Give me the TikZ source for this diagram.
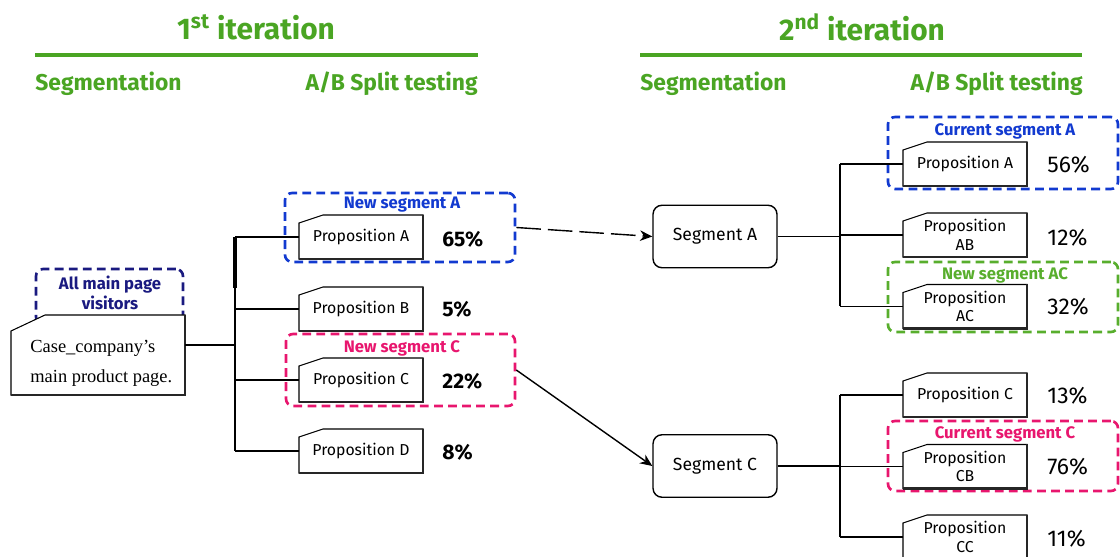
\documentclass[tikz,border=0pt]{standalone}
\usepackage{fontspec}
\setmainfont{Fira Sans}
\newfontfamily\casefont{Liberation Serif}
\usetikzlibrary{calc,arrows.meta}
\definecolor{hgreen}{RGB}{74,165,35}
\definecolor{sblue}{RGB}{18,58,208}
\definecolor{snavy}{RGB}{26,26,128}
\definecolor{spink}{RGB}{232,22,110}
\definecolor{sgreen}{RGB}{88,174,45}
% tab box: name, cx, cy, w, h, text
\newcommand\tabnode[6]{%
  \draw[tabline,fill=white] ({#2-#4/2},{#3+#5/2}) -- ({#2-#4/2},{#3-#5/2+8}) -- ({#2-#4/2+24},{#3-#5/2}) -- ({#2+#4/2},{#3-#5/2}) -- ({#2+#4/2},{#3+#5/2}) -- cycle;
  \draw[tabshadow] ({#2-#4/2},{#3+#5/2}) -- ({#2+#4/2},{#3+#5/2}) -- ({#2+#4/2},{#3-#5/2});
  \node[prop,minimum width={#4*0.02cm},minimum height={#5*0.02cm}] (#1) at (#2,#3) {#6};}
\begin{document}
\begin{tikzpicture}[x=0.02cm,y=-0.02cm,
  head/.style={text=hgreen,font=\fontsize{17}{18}\selectfont\bfseries,inner sep=0pt},
  sub/.style={text=hgreen,font=\fontsize{13}{14}\selectfont\bfseries,inner sep=0pt},
  hline/.style={draw=hgreen,line width=2pt},
  tabline/.style={draw=black,line width=0.6pt},
  tabshadow/.style={draw=black!85,line width=1.2pt},
  prop/.style={inner sep=1pt,align=center,font=\fontsize{9}{10.5}\selectfont},
  propR/.style={prop,font=\fontsize{10}{11.5}\selectfont},
  frame/.style={draw=#1,dash pattern=on 5pt off 3pt,line width=1.5pt,rounded corners=4pt,inner sep=0pt},
  flabel/.style={text=#1,font=\fontsize{9.5}{11}\selectfont\bfseries,inner sep=0pt,align=center},
  seg/.style={draw=black,line width=0.8pt,rounded corners=0.18cm,minimum width=2.48cm,minimum height=1.25cm,font=\fontsize{10}{12}\selectfont},
  pctL/.style={font=\fontsize{12}{14}\selectfont\bfseries,inner sep=0pt,anchor=west},
  pctR/.style={font=\fontsize{13}{15}\selectfont,inner sep=0pt,anchor=west},
  conn/.style={draw=black,line width=0.8pt},
  arr/.style={draw=black,line width=0.8pt,-{Stealth[length=7pt,width=6pt]}}]
\useasboundingbox (0,0) rectangle (1120,557);
\clip (0,0) rectangle (1120,557);

% headers
\node[head] (t1) at (256,27) {1\textsuperscript{st} iteration};
\node[head] (t2) at (862,27) {2\textsuperscript{nd} iteration};
\draw[hline] (35,55) -- (478,55);
\draw[hline] (640,55) -- (1082,55);
\node[sub,anchor=west] (s1) at (35,84) {Segmentation};
\node[sub,anchor=east] (ab1) at (478,84) {A/B Split testing};
\node[sub,anchor=west] (s2) at (640,84) {Segmentation};
\node[sub,anchor=east] (ab2) at (1083,84) {A/B Split testing};

% frames
\node[frame=snavy,minimum width=2.94cm,minimum height=1.1cm] (fAll) at (109.5,296.5) {};
\node[flabel=snavy] (lAll) at (110,293) {All main page\\visitors};
\node[frame=sblue,minimum width=4.6cm,minimum height=1.38cm] (fA1) at (400,227.5) {};
\node[flabel=sblue] (lA1) at (402,205) {New segment A};
\node[frame=spink,minimum width=4.58cm,minimum height=1.44cm] (fC1) at (400.5,370) {};
\node[flabel=spink] (lC1) at (402,348) {New segment C};
\node[frame=sblue,minimum width=4.6cm,minimum height=1.44cm] (fA2) at (1003,153) {};
\node[flabel=sblue] (lA2) at (1005,131) {Current segment A};
\node[frame=sgreen,minimum width=4.6cm,minimum height=1.4cm] (fAC) at (1003,297) {};
\node[flabel=sgreen] (lAC) at (1005,275) {New segment AC};
\node[frame=spink,minimum width=4.6cm,minimum height=1.4cm] (fC2) at (1003,456) {};
\node[flabel=spink] (lC2) at (1005,434) {Current segment C};

% main box
\draw[tabline,fill=white] (11,395) -- (11,331) -- (45,315) -- (185,315) -- (185,395) -- cycle;
\draw[tabshadow] (11,395) -- (185,395) -- (185,315);
\node[minimum width=3.48cm,minimum height=1.6cm,inner sep=0pt] (main) at (98,355) {};
\node[anchor=west,align=left,inner sep=0pt,font=\casefont\fontsize{10.5}{17}\selectfont] (mtxt) at (30,363) {Case\_company’s\\main product page.};
\coordinate (mainR) at (185,345);
\coordinate (tr1) at (235,345);

% first column propositions
\tabnode{p1A}{361}{237}{124}{44}{Proposition A}
\tabnode{p1B}{361}{309}{124}{44}{Proposition B}
\tabnode{p1C}{361}{380}{124}{44}{Proposition C}
\tabnode{p1D}{361}{451}{124}{44}{Proposition D}
\node[pctL] (q1A) at (442,239) {65\%};
\node[pctL] (q1B) at (442,309) {5\%};
\node[pctL] (q1C) at (442,381) {22\%};
\node[pctL] (q1D) at (442,452) {8\%};

\coordinate (tr1top) at (235,237);
\coordinate (tr1bot) at (235,451);
\draw[conn] (mainR) -- (tr1);
\draw[conn] (tr1top) -- (tr1bot);
\draw[line width=2pt] (tr1top) -- (235,288);
\draw[conn] (tr1top) -- (p1A.west);
\draw[conn] (tr1top |- p1B.west) -- (p1B.west);
\draw[conn] (tr1top |- p1C.west) -- (p1C.west);
\draw[conn] (tr1bot) -- (p1D.west);

% segments
\node[seg] (segA) at (715,236.5) {Segment A};
\node[seg] (segC) at (715,466) {Segment C};
\draw[arr,dash pattern=on 14pt off 4pt] (fA1.east) -- (segA.west);
\draw[arr] (fC1.east) -- (segC.west);

% second column propositions
\tabnode{p2A}{965}{164}{124}{44}{Proposition A}
\tabnode{p2AB}{965}{235}{124}{44}{Proposition\\AB}
\tabnode{p2AC}{965}{306.5}{124}{44}{Proposition\\AC}
\tabnode{p2C}{965}{395}{124}{44}{Proposition C}
\tabnode{p2CB}{965}{466.5}{124}{44}{Proposition\\CB}
\tabnode{p2CC}{965}{537}{124}{44}{Proposition\\CC}
\node[pctR] (q2A) at (1047,165) {56\%};
\node[pctR] (q2AB) at (1047,238) {12\%};
\node[pctR] (q2AC) at (1047,307) {32\%};
\node[pctR] (q2C) at (1047,396) {13\%};
\node[pctR] (q2CB) at (1047,467) {76\%};
\node[pctR] (q2CC) at (1047,539) {11\%};

\coordinate (tr2top) at (840,164);
\coordinate (tr2bot) at (840,306.5);
\coordinate (tr3top) at (840,395);
\coordinate (tr3bot) at (840,537);
\draw[conn] (segA.east) -- (tr2top |- segA.east);
\draw[conn] (tr2top) -- (tr2bot);
\draw[conn] (tr2top) -- (p2A.west);
\draw[conn] (tr2top |- p2AB.west) -- (p2AB.west);
\draw[conn] (tr2bot) -- (p2AC.west);
\draw[conn] (segC.east) -- (tr3top |- segC.east);
\draw[conn] (tr3top) -- (tr3bot);
\draw[conn] (tr3top) -- (p2C.west);
\draw[conn] (tr3top |- p2CB.west) -- (p2CB.west);
\draw[conn] (tr3bot) -- (p2CC.west);
\end{tikzpicture}
\end{document}
